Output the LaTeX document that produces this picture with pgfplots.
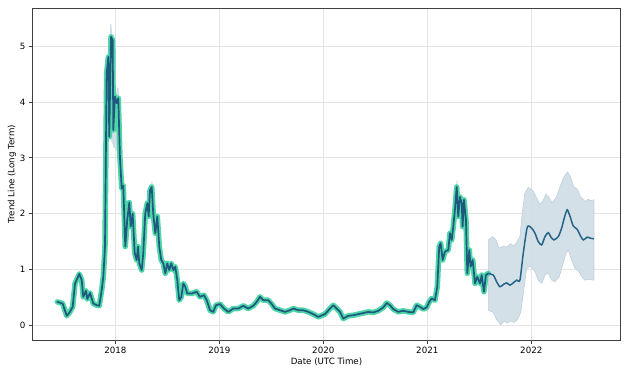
\documentclass[border=0pt]{standalone}
\usepackage{fontspec}
\setmainfont{DejaVu Sans}
\usepackage{pgfplots}
\pgfplotsset{compat=1.18}
\definecolor{halo}{RGB}{78,214,168}
\definecolor{trend}{RGB}{30,88,126}
\definecolor{fcline}{RGB}{36,100,136}
\definecolor{band}{RGB}{209,222,230}
\definecolor{bandedge}{RGB}{192,208,219}
\begin{document}
\begin{tikzpicture}[font=\fontsize{8.7}{10.4}\selectfont]
\useasboundingbox (-32.3bp,-35.7bp) rectangle (595.7bp,340.3bp);
\begin{axis}[
  at={(0,0)}, anchor=south west,
  scale only axis, width=588.4bp, height=332bp,
  xmin=2017.202, xmax=2022.860, ymin=-0.269, ymax=5.681,
  xtick={2018,2019,2020,2021,2022},
  xticklabels={2018,2019,2020,2021,2022},
  ytick={0,1,2,3,4,5},
  yticklabels={0,1,2,3,4,5},
  xtick pos=bottom, ytick pos=left,
  tick align=outside, major tick length=3.5bp,
  tick style={black!75, line width=0.8bp},
  axis line style={black!75, line width=0.9bp},
  grid=major, major grid style={black!10, line width=0.8bp},
  xlabel={Date (UTC Time)},
  ylabel={Trend Line (Long Term)},
  xlabel style={at={(axis description cs:0.5,-0.0654)}, anchor=center},
  ylabel style={at={(axis description cs:-0.0345,0.5)}, anchor=center},
  clip=true,
]
% forecast uncertainty band
\addplot[fill=band, draw=bandedge, line width=0.6bp, fill opacity=0.95] coordinates {
(2021.587,1.53) (2021.629,1.59) (2021.661,1.53) (2021.692,1.38) (2021.731,1.42)
(2021.763,1.40) (2021.802,1.46) (2021.833,1.42) (2021.865,1.50) (2021.891,1.59)
(2021.917,2.07) (2021.939,2.37) (2021.971,2.47) (2022.013,2.42) (2022.052,2.28)
(2022.084,2.17) (2022.110,2.22) (2022.141,2.35) (2022.167,2.30) (2022.199,2.20)
(2022.238,2.28) (2022.276,2.48) (2022.314,2.66) (2022.350,2.75) (2022.379,2.65)
(2022.410,2.48) (2022.442,2.44) (2022.475,2.30) (2022.516,2.22) (2022.548,2.26)
(2022.574,2.23) (2022.603,2.25)
(2022.603,0.81) (2022.548,0.82) (2022.516,0.81) (2022.485,0.87) (2022.452,0.98)
(2022.420,1.02) (2022.388,1.17) (2022.356,1.35) (2022.334,1.29) (2022.302,1.08)
(2022.269,0.87) (2022.228,0.78) (2022.196,0.81) (2022.163,0.94) (2022.132,0.90)
(2022.100,0.75) (2022.067,0.81) (2022.036,0.96) (2021.994,1.06) (2021.956,1.02)
(2021.923,0.57) (2021.898,0.22) (2021.865,0.10) (2021.833,0.05) (2021.802,0.08)
(2021.769,0.04) (2021.738,0.07) (2021.706,0.01) (2021.667,0.10) (2021.635,0.23)
(2021.587,0.27)
} -- cycle;
% faint historical uncertainty near the peaks
\addplot[fill=band, draw=none] coordinates {
(2017.935,4.80) (2017.952,5.40) (2017.962,5.40) (2017.975,5.10) (2018.005,4.15)
(2018.020,4.26) (2018.032,4.26) (2018.050,3.00) (2018.040,3.00) (2018.000,3.18)
(2017.985,3.18) (2017.945,3.40)
} -- cycle;
\addplot[fill=band, draw=none] coordinates {
(2018.340,2.40) (2018.348,2.58) (2018.356,2.58) (2018.365,2.40)
} -- cycle;
\addplot[fill=band, draw=none] coordinates {
(2021.276,2.40) (2021.282,2.60) (2021.290,2.60) (2021.296,2.40)
} -- cycle;
\pgfplotstableread{
x y
2017.442 0.42
2017.494 0.39
2017.533 0.17
2017.564 0.24
2017.590 0.33
2017.613 0.75
2017.654 0.92
2017.677 0.81
2017.692 0.51
2017.718 0.62
2017.731 0.47
2017.757 0.58
2017.788 0.39
2017.821 0.36
2017.846 0.35
2017.869 0.63
2017.885 0.87
2017.901 1.41
2017.917 4.52
2017.933 4.81
2017.942 3.38
2017.959 5.17
2017.975 5.11
2017.981 3.50
2017.997 4.10
2018.013 3.98
2018.029 4.07
2018.045 3.00
2018.062 2.45
2018.077 2.50
2018.096 1.41
2018.115 1.89
2018.135 2.20
2018.148 1.77
2018.167 2.00
2018.187 1.29
2018.206 1.17
2018.218 1.41
2018.231 1.11
2018.254 0.99
2018.269 1.29
2018.288 2.00
2018.308 2.19
2018.321 1.95
2018.334 2.42
2018.350 2.48
2018.365 2.00
2018.385 1.65
2018.404 1.95
2018.423 1.41
2018.442 1.17
2018.462 1.11
2018.481 0.93
2018.500 1.11
2018.519 0.99
2018.538 1.11
2018.558 0.99
2018.577 1.05
2018.596 0.81
2018.615 0.45
2018.635 0.51
2018.654 0.75
2018.673 0.69
2018.692 0.57
2018.735 0.57
2018.783 0.60
2018.814 0.51
2018.853 0.54
2018.879 0.45
2018.911 0.27
2018.942 0.24
2018.968 0.36
2019.007 0.38
2019.045 0.30
2019.087 0.24
2019.135 0.30
2019.183 0.30
2019.231 0.35
2019.279 0.30
2019.327 0.35
2019.360 0.42
2019.391 0.51
2019.423 0.45
2019.471 0.45
2019.504 0.38
2019.536 0.30
2019.584 0.27
2019.632 0.24
2019.680 0.27
2019.712 0.30
2019.760 0.27
2019.808 0.27
2019.856 0.24
2019.904 0.20
2019.952 0.15
2020.016 0.20
2020.064 0.30
2020.096 0.36
2020.129 0.30
2020.161 0.24
2020.192 0.12
2020.240 0.17
2020.288 0.18
2020.337 0.20
2020.385 0.22
2020.433 0.24
2020.481 0.23
2020.529 0.26
2020.577 0.32
2020.610 0.40
2020.641 0.36
2020.673 0.29
2020.721 0.24
2020.769 0.26
2020.817 0.24
2020.865 0.23
2020.898 0.36
2020.930 0.33
2020.962 0.29
2020.994 0.32
2021.019 0.42
2021.042 0.48
2021.074 0.45
2021.096 0.69
2021.115 1.41
2021.129 1.47
2021.148 1.17
2021.170 1.32
2021.202 1.35
2021.218 1.65
2021.235 1.53
2021.250 1.77
2021.266 2.07
2021.283 2.48
2021.298 1.95
2021.314 2.30
2021.331 2.19
2021.340 1.77
2021.353 2.25
2021.372 1.89
2021.385 0.93
2021.404 1.35
2021.417 1.05
2021.437 1.17
2021.459 0.75
2021.481 0.87
2021.507 0.75
2021.523 0.90
2021.545 0.60
2021.564 0.90
2021.587 0.93
}\hist
\addplot[halo, line width=5.5bp, line join=round, line cap=round] table {\hist};
\addplot[trend, line width=1.7bp, line join=round, line cap=round] table {\hist};
% forecast mean
\addplot[fcline, line width=1.5bp, smooth, tension=0.4] coordinates {
(2021.587,0.93) (2021.635,0.90) (2021.667,0.78) (2021.699,0.69) (2021.738,0.74)
(2021.763,0.76) (2021.795,0.72) (2021.827,0.76) (2021.860,0.81) (2021.891,0.81)
(2021.923,1.29) (2021.962,1.76) (2022.004,1.74) (2022.036,1.65) (2022.067,1.50)
(2022.100,1.44) (2022.132,1.59) (2022.163,1.66) (2022.189,1.58) (2022.218,1.53)
(2022.260,1.59) (2022.292,1.74) (2022.317,1.92) (2022.346,2.07) (2022.373,1.95)
(2022.404,1.78) (2022.442,1.72) (2022.468,1.62) (2022.500,1.53) (2022.538,1.58)
(2022.571,1.56) (2022.603,1.55)
};
\end{axis}
\end{tikzpicture}
\end{document}
